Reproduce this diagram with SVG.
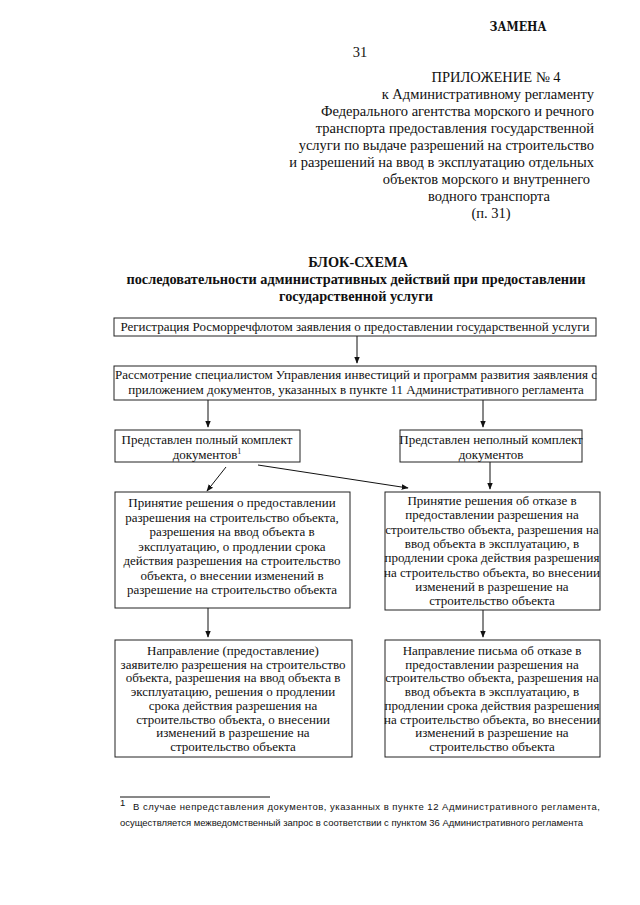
<svg xmlns="http://www.w3.org/2000/svg" width="640" height="905" viewBox="0 0 640 905">
<defs>
<style>
.hd{font-family:"Liberation Serif","Times New Roman",serif;font-size:14.5px;fill:#111}
.tt{font-family:"Liberation Serif","Times New Roman",serif;font-size:14.3px;font-weight:bold;fill:#111;text-anchor:middle}
.bx{fill:#fff;stroke:#222;stroke-width:1}
.tx{font-family:"Liberation Serif","Times New Roman",serif;font-size:13px;fill:#111;text-anchor:middle}
.fn{font-family:"Liberation Sans",Arial,sans-serif;font-size:9.5px;fill:#111}
.cn{stroke:#111;stroke-width:1;fill:none;marker-end:url(#ah)}
</style>
<marker id="ah" viewBox="0 0 10 10" refX="9" refY="5" markerWidth="7" markerHeight="7" markerUnits="userSpaceOnUse" orient="auto">
<path d="M0,1 L10,5 L0,9 z" fill="#111"/>
</marker>
</defs>
<rect width="640" height="905" fill="#fff"/>

<g id="header">
<text x="518" y="31" font-family="'DejaVu Serif',serif" font-size="12" font-weight="900" text-anchor="middle" fill="#111" textLength="57" lengthAdjust="spacingAndGlyphs">ЗАМЕНА</text>
<text class="hd" x="360" y="57" text-anchor="middle">31</text>
<text class="hd" x="496" y="82" text-anchor="middle">ПРИЛОЖЕНИЕ № 4</text>
<text class="hd" x="594" y="99" text-anchor="end">к Административному регламенту</text>
<text class="hd" x="594" y="116" text-anchor="end">Федерального агентства морского и речного</text>
<text class="hd" x="594" y="133" text-anchor="end">транспорта предоставления государственной</text>
<text class="hd" x="594" y="150" text-anchor="end">услуги по выдаче разрешений на строительство</text>
<text class="hd" x="594" y="167" text-anchor="end">и разрешений на ввод в эксплуатацию отдельных</text>
<text class="hd" x="590" y="184" text-anchor="end">объектов морского и внутреннего</text>
<text class="hd" x="489" y="201" text-anchor="middle">водного транспорта</text>
<text class="hd" x="491" y="218" text-anchor="middle">(п. 31)</text>
</g>

<g id="title">
<text class="tt" x="358" y="267" font-size="15">БЛОК-СХЕМА</text>
<text class="tt" x="356" y="284">последовательности административных действий при предоставлении</text>
<text class="tt" x="356" y="301">государственной услуги</text>
</g>

<g id="connectors">
<line class="cn" x1="357" y1="336" x2="357" y2="363"/>
<line class="cn" x1="208" y1="400" x2="208" y2="427"/>
<line class="cn" x1="483" y1="400" x2="483" y2="427"/>
<line class="cn" x1="226" y1="467" x2="207" y2="491"/>
<line class="cn" x1="258" y1="465" x2="408" y2="488"/>
<line class="cn" x1="490" y1="462" x2="490" y2="489"/>
<line class="cn" x1="208" y1="608" x2="208" y2="637"/>
<line class="cn" x1="483" y1="610" x2="483" y2="637"/>
</g>

<g id="n1">
<rect class="bx" x="114" y="318" width="482" height="18"/>
<text class="tx" x="355" y="331">Регистрация Росморречфлотом заявления о предоставлении государственной услуги</text>
</g>

<g id="n2">
<rect class="bx" x="114" y="366" width="482" height="34"/>
<text class="tx" x="356" y="379" font-size="12.7">Рассмотрение специалистом Управления инвестиций и программ развития заявления с</text>
<text class="tx" x="356" y="394" font-size="12.7">приложением документов, указанных в пункте 11 Административного регламента</text>
</g>

<g id="n3">
<rect class="bx" x="115" y="430" width="185" height="32"/>
<text class="tx" x="207" y="444">Представлен полный комплект</text>
<text class="tx" x="207" y="459">документов<tspan font-size="8" dy="-5">1</tspan></text>
</g>

<g id="n4">
<rect class="bx" x="400" y="430" width="182" height="32"/>
<text class="tx" x="491" y="444">Представлен неполный комплект</text>
<text class="tx" x="491" y="459">документов</text>
</g>

<g id="n5">
<rect class="bx" x="115" y="492" width="235" height="116"/>
<text class="tx" x="232" y="507">Принятие решения о предоставлении</text>
<text class="tx" x="232" y="521.5">разрешения на строительство объекта,</text>
<text class="tx" x="232" y="536">разрешения на ввод объекта в</text>
<text class="tx" x="232" y="550.5">эксплуатацию, о продлении срока</text>
<text class="tx" x="232" y="565">действия разрешения на строительство</text>
<text class="tx" x="232" y="579.5">объекта, о внесении изменений в</text>
<text class="tx" x="232" y="594">разрешение на строительство объекта</text>
</g>

<g id="n6">
<rect class="bx" x="385" y="492" width="215" height="118"/>
<text class="tx" x="492" y="505">Принятие решения об отказе в</text>
<text class="tx" x="492" y="519.3">предоставлении разрешения на</text>
<text class="tx" x="492" y="533.6">строительство объекта, разрешения на</text>
<text class="tx" x="492" y="547.9">ввод объекта в эксплуатацию, в</text>
<text class="tx" x="492" y="562.2">продлении срока действия разрешения</text>
<text class="tx" x="492" y="576.5">на строительство объекта, во внесении</text>
<text class="tx" x="492" y="590.8">изменений в разрешение на</text>
<text class="tx" x="492" y="605">строительство объекта</text>
</g>

<g id="n7">
<rect class="bx" x="115" y="640" width="237" height="117"/>
<text class="tx" x="233" y="655">Направление (предоставление)</text>
<text class="tx" x="233" y="668.7">заявителю разрешения на строительство</text>
<text class="tx" x="233" y="682.4">объекта, разрешения на ввод объекта в</text>
<text class="tx" x="233" y="696.1">эксплуатацию, решения о продлении</text>
<text class="tx" x="233" y="709.8">срока действия разрешения на</text>
<text class="tx" x="233" y="723.5">строительство объекта, о внесении</text>
<text class="tx" x="233" y="737.2">изменений в разрешение на</text>
<text class="tx" x="233" y="751">строительство объекта</text>
</g>

<g id="n8">
<rect class="bx" x="385" y="640" width="215" height="117"/>
<text class="tx" x="492" y="655">Направление письма об отказе в</text>
<text class="tx" x="492" y="668.7">предоставлении разрешения на</text>
<text class="tx" x="492" y="682.4">строительство объекта, разрешения на</text>
<text class="tx" x="492" y="696.1">ввод объекта в эксплуатацию, в</text>
<text class="tx" x="492" y="709.8">продлении срока действия разрешения</text>
<text class="tx" x="492" y="723.5">на строительство объекта, во внесении</text>
<text class="tx" x="492" y="737.2">изменений в разрешение на</text>
<text class="tx" x="492" y="751">строительство объекта</text>
</g>

<g id="footnote">
<line x1="120" y1="797" x2="270" y2="797" stroke="#111" stroke-width="1"/>
<text class="fn" x="120" y="806" font-size="7">1</text>
<text class="fn" x="133" y="810" textLength="467" lengthAdjust="spacing">В случае непредставления документов, указанных в пункте 12 Административного регламента,</text>
<text class="fn" x="120" y="826" textLength="463" lengthAdjust="spacingAndGlyphs">осуществляется межведомственный запрос в соответствии с пунктом 36 Административного регламента</text>
</g>
</svg>
